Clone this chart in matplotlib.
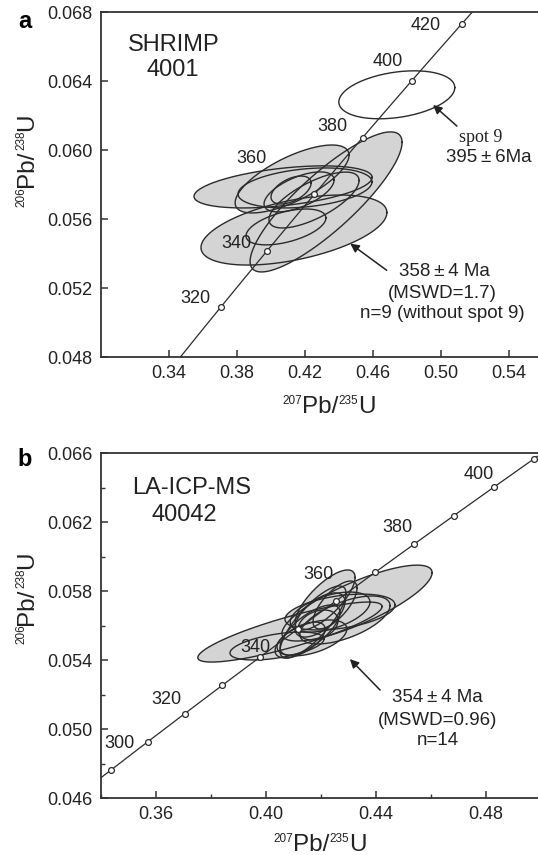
import numpy as np
import matplotlib
matplotlib.use("Agg")
import matplotlib.pyplot as plt
import matplotlib.transforms as mtransforms

plt.rcParams['font.family'] = ['Liberation Sans', 'DejaVu Sans']

# concordia points (age in Ma, 207Pb/235U, 206Pb/238U)
conc_age = [290, 300, 310, 320, 330, 340, 350, 360, 370, 380, 390, 400, 410, 420, 430]
conc_x = [0.33057, 0.34374, 0.35704, 0.37047, 0.38403, 0.39773, 0.41156, 0.42553,
          0.43964, 0.45389, 0.46828, 0.48281, 0.49749, 0.51231, 0.52728]
conc_y = [0.046014, 0.047637, 0.049264, 0.050893, 0.052524, 0.054158, 0.055795, 0.057434,
          0.059076, 0.060720, 0.062366, 0.064016, 0.065668, 0.067322, 0.068978]

# panel a: SHRIMP 4001 spot ellipses (x, sx, y, sy, rho)
a_x = [0.4071, 0.4324, 0.4135, 0.4200, 0.4124, 0.4118, 0.4165, 0.4088, 0.4253]
a_sx = [0.0524, 0.0447, 0.0547, 0.0394, 0.0335, 0.0118, 0.0206, 0.0235, 0.0265]
a_y = [0.05786, 0.05699, 0.05536, 0.05780, 0.05832, 0.05768, 0.05757, 0.05554, 0.05710]
a_sy = [0.00122, 0.00406, 0.00203, 0.00116, 0.00197, 0.00081, 0.00116, 0.00104, 0.00162]
a_rho = [0.45, 0.85, 0.50, 0.30, 0.70, 0.50, 0.60, 0.50, 0.70]
# spot 9 (excluded)
s9 = (0.474, 0.0341, 0.0632, 0.00139, 0.30)

# panel b: LA-ICP-MS 40042
b_x = [0.4087, 0.4331, 0.4040, 0.4171, 0.4196, 0.4160, 0.4233, 0.4269, 0.4189,
       0.4124, 0.4251, 0.4287, 0.4215, 0.4167]
b_sx = [0.0335, 0.0273, 0.0171, 0.0120, 0.0091, 0.0109, 0.0145, 0.0200, 0.0073,
        0.0091, 0.0080, 0.0164, 0.0109, 0.0127]
b_y = [0.05562, 0.05730, 0.05481, 0.05620, 0.05661, 0.05574, 0.05678, 0.05678, 0.05603,
       0.05516, 0.05719, 0.05632, 0.05748, 0.05528]
b_sy = [0.00174, 0.00220, 0.00081, 0.00209, 0.00128, 0.00145, 0.00116, 0.00104, 0.00087,
        0.00104, 0.00139, 0.00139, 0.00174, 0.00104]
b_rho = [0.85, 0.80, 0.50, 0.80, 0.60, 0.70, 0.50, 0.40, 0.30, 0.60, 0.70, 0.60, 0.75, 0.50]

a_marks = [320, 340, 360, 380, 400, 420]
a_labels = [320, 340, 360, 380, 400, 420]
b_marks = [300, 310, 320, 330, 340, 350, 360, 370, 380, 390, 400, 410]
b_labels = [300, 320, 340, 360, 380, 400]

# label offsets (points) from the concordia point
a_off = {320: (-18, 6), 340: (-22, 5), 360: (-45, 26), 380: (-22, 8), 400: (-17, 14), 420: (-26, -1)}
b_off = {300: (6, 19), 320: (-13, 10), 340: (-3, 7), 360: (-13, 19), 380: (-12, 12), 400: (-11, 9)}

FILL = '#d4d4d4'
EDGE = '#2b2b2b'
TXT = '#222222'
PM = '\u2009±\u2009'


def ellipse_pts(x, sx, y, sy, rho):
    t = np.linspace(0, 2 * np.pi, 240)
    ex = x + sx * np.cos(t)
    ey = y + sy * (rho * np.cos(t) + np.sqrt(1 - rho ** 2) * np.sin(t))
    return ex, ey


def draw_ellipses(ax, xs, sxs, ys, sys_, rhos):
    pts = [ellipse_pts(*p) for p in zip(xs, sxs, ys, sys_, rhos)]
    for ex, ey in pts:
        ax.fill(ex, ey, color=FILL, lw=0, zorder=1)
    for ex, ey in pts:
        ax.plot(ex, ey, color=EDGE, lw=1.0, zorder=2)


def draw_concordia(ax, marks, labels, offs):
    ax.plot(conc_x, conc_y, color=EDGE, lw=0.9, zorder=3)
    idx = [conc_age.index(a) for a in marks]
    ax.plot([conc_x[i] for i in idx], [conc_y[i] for i in idx], 'o', ms=4.2,
            mfc='white', mec=EDGE, mew=0.9, zorder=4)
    for a in labels:
        i = conc_age.index(a)
        ax.annotate(str(a), (conc_x[i], conc_y[i]), xytext=offs[a],
                    textcoords='offset points', ha='center', va='center',
                    fontsize=13, color=TXT, zorder=5)


def ratio_label(ax, x, y, top, bottom, rotation=0):
    # 207Pb/235U style label with small superscripts
    pieces = [(top, 8.5, 6.5), ('Pb/', 17.5, 0), (bottom, 8.5, 6.5), ('U', 17.5, 0)]
    fig = ax.figure
    r = fig.canvas.get_renderer()
    widths = []
    for s, size, rise in pieces:
        t = ax.text(0, 0, s, fontsize=size)
        widths.append(t.get_window_extent(r).width * 72 / fig.dpi)
        t.remove()
    pos = -sum(widths) / 2
    for (s, size, rise), w in zip(pieces, widths):
        if rotation == 0:
            dx, dy = pos, rise
        else:
            dx, dy = -rise, pos
        tr = mtransforms.offset_copy(ax.transAxes, fig=fig, x=dx, y=dy, units='points')
        ax.text(x, y, s, fontsize=size, transform=tr, rotation=rotation,
                rotation_mode='anchor', ha='left', va='baseline', color=TXT)
        pos += w


def style_axes(ax):
    ax.spines['right'].set_visible(False)
    for s in ['left', 'bottom', 'top']:
        ax.spines[s].set_linewidth(1.3)
        ax.spines[s].set_color('#333333')
    ax.tick_params(direction='in', length=5, width=1.1, color='#333333',
                   labelsize=13, pad=6, labelcolor=TXT, top=False, right=False)
    ax.tick_params(which='minor', direction='in', length=3, width=1.0, color='#333333',
                   top=False, right=False)


fig = plt.figure(figsize=(5.38, 8.55), dpi=100)

# ---- panel a
ax1 = fig.add_axes([101 / 538, 498 / 855, 437 / 538, 345 / 855])
ax1.set_xlim(0.30, 0.30 + 437 / 1700)
ax1.set_ylim(0.048, 0.068)
draw_ellipses(ax1, a_x, a_sx, a_y, a_sy, a_rho)
ex, ey = ellipse_pts(*s9)
ax1.plot(ex, ey, color=EDGE, lw=1.0, zorder=2)
draw_concordia(ax1, a_marks, a_labels, a_off)
ax1.set_xticks([0.34, 0.38, 0.42, 0.46, 0.50, 0.54])
ax1.set_xticklabels(['0.34', '0.38', '0.42', '0.46', '0.50', '0.54'])
ax1.set_yticks([0.048, 0.052, 0.056, 0.060, 0.064, 0.068])
ax1.set_yticklabels(['0.048', '0.052', '0.056', '0.060', '0.064', '0.068'])
style_axes(ax1)

ax1.text(0.167, 0.904, 'SHRIMP', transform=ax1.transAxes, ha='center', va='center',
         fontsize=17, color=TXT)
ax1.text(0.165, 0.832, '4001', transform=ax1.transAxes, ha='center', va='center',
         fontsize=17, color=TXT)
ax1.annotate('', xy=(0.4941, 0.06272), xytext=(0.5106, 0.06128),
             arrowprops=dict(arrowstyle='-|>', color=TXT, lw=1.1, mutation_scale=13))
ax1.text(0.5235, 0.06075, 'spot 9', ha='center', va='center', fontsize=13,
         family='Liberation Serif', color=TXT)
ax1.text(0.5282, 0.05954, '395' + PM + '6Ma', ha='center', va='center', fontsize=13.5,
         color=TXT)
ax1.annotate('', xy=(0.4453, 0.05467), xytext=(0.4694, 0.05293),
             arrowprops=dict(arrowstyle='-|>', color=TXT, lw=1.1, mutation_scale=13))
ax1.text(0.5018, 0.05293, '358' + PM + '4 Ma', ha='center', va='center', fontsize=13.5,
         color=TXT)
ax1.text(0.5006, 0.05171, '(MSWD=1.7)', ha='center', va='center', fontsize=13.5, color=TXT)
ax1.text(0.5006, 0.05055, 'n=9 (without spot 9)', ha='center', va='center', fontsize=13.5,
         color=TXT)
ratio_label(ax1, (329 - 101) / 437, -0.162, '207', '235')
ratio_label(ax1, -0.1556, 0.571, '206', '238', rotation=90)
fig.text(25 / 538, 1 - 22 / 855, 'a', ha='center', va='center', fontsize=17,
         fontweight='bold')

# ---- panel b
ax2 = fig.add_axes([101 / 538, 57 / 855, 437 / 538, 345 / 855])
ax2.set_xlim(0.34, 0.34 + 437 / 2750)
ax2.set_ylim(0.046, 0.066)
draw_ellipses(ax2, b_x, b_sx, b_y, b_sy, b_rho)
draw_concordia(ax2, b_marks, b_labels, b_off)
ax2.set_xticks([0.36, 0.40, 0.44, 0.48])
ax2.set_xticklabels(['0.36', '0.40', '0.44', '0.48'])
ax2.set_xticks([0.34, 0.38, 0.42, 0.46], minor=True)
ax2.set_yticks([0.046, 0.050, 0.054, 0.058, 0.062, 0.066])
ax2.set_yticklabels(['0.046', '0.050', '0.054', '0.058', '0.062', '0.066'])
ax2.set_yticks([0.048, 0.052, 0.056, 0.060, 0.064], minor=True)
style_axes(ax2)

ax2.text(0.208, 0.899, 'LA-ICP-MS', transform=ax2.transAxes, ha='center', va='center',
         fontsize=17, color=TXT)
ax2.text(0.190, 0.820, '40042', transform=ax2.transAxes, ha='center', va='center',
         fontsize=17, color=TXT)
ax2.annotate('', xy=(0.4298, 0.05417), xytext=(0.4422, 0.05214),
             arrowprops=dict(arrowstyle='-|>', color=TXT, lw=1.1, mutation_scale=13))
ax2.text(0.4622, 0.05180, '354' + PM + '4 Ma', ha='center', va='center', fontsize=13.5,
         color=TXT)
ax2.text(0.4625, 0.05052, '(MSWD=0.96)', ha='center', va='center', fontsize=13.5, color=TXT)
ax2.text(0.4625, 0.04936, 'n=14', ha='center', va='center', fontsize=13.5, color=TXT)
ratio_label(ax2, (320 - 101) / 437, -0.1536, '207', '235')
ratio_label(ax2, -0.1556, 0.58, '206', '238', rotation=90)
fig.text(25 / 538, 1 - 459 / 855, 'b', ha='center', va='center', fontsize=17,
         fontweight='bold')

fig.savefig('out.png', dpi=100)
